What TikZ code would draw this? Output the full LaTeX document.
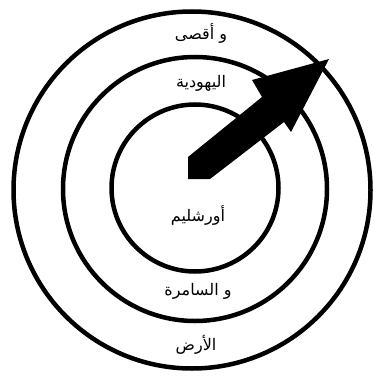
\documentclass[tikz,border=0pt]{standalone}
\usepackage{fontspec}
\newfontfamily\arabicfont[Script=Arabic]{DejaVu Sans}
\TeXXeTstate=1
\begin{document}
\begin{tikzpicture}[x=1pt,y=-1pt,
  ring/.style={draw=black,line width=4.5pt},
  lbl/.style={font=\arabicfont\fontsize{16}{18}\selectfont,inner sep=0pt,text=black}]
\useasboundingbox (0,0) rectangle (374,377);
\draw[ring] (192,190) circle[radius=178.5];
\draw[ring] (195,189) circle[radius=132];
\draw[ring] (195,188) circle[radius=83.5];
\fill[black] (188,157) -- (262,97) -- (252,80) -- (329,59) -- (291,132) -- (284,122) -- (210,179) -- (188,179) -- cycle;
\node[lbl] (aqsa) at (201,33) {\beginR و أقصى\endR};
\node[lbl] (yahud) at (201,83) {\beginR اليهودية\endR};
\node[lbl] (ursh) at (198,215) {\beginR أورشليم\endR};
\node[lbl] (samr) at (198,291) {\beginR و السامرة\endR};
\node[lbl] (ard) at (196,345) {\beginR الأرض\endR};
\end{tikzpicture}
\end{document}
